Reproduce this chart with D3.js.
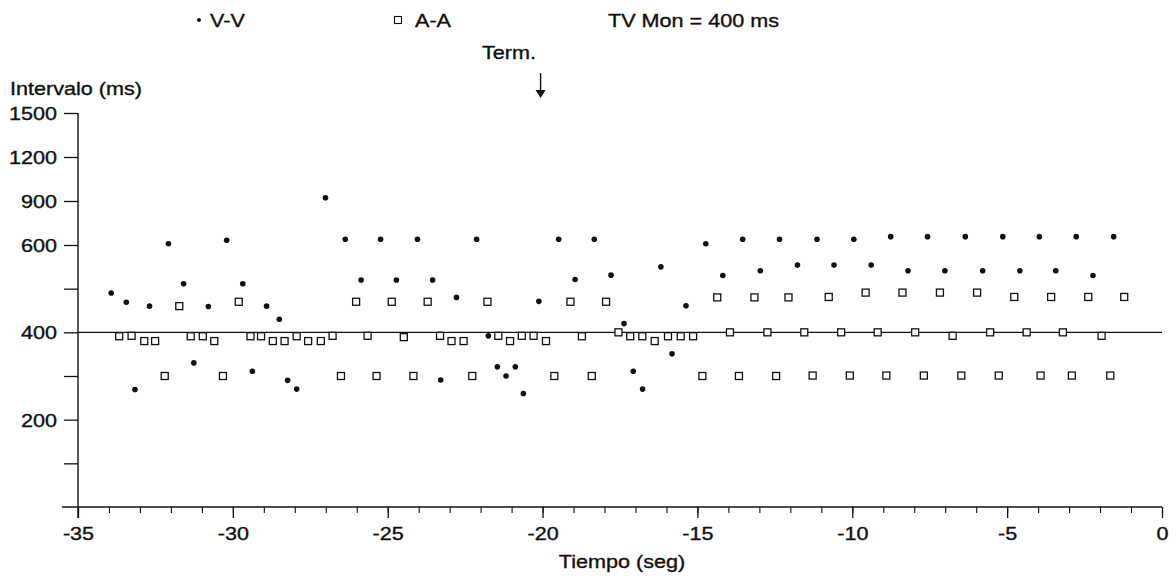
<!DOCTYPE html>
<html>
<head>
<meta charset="utf-8">
<script src="https://cdn.jsdelivr.net/npm/d3@7"></script>
<style>
  html, body { margin: 0; padding: 0; background: #fff; }
  svg { display: block; }
  text { font-family: "Liberation Sans", Arial, sans-serif; fill: #111; stroke: #111; stroke-width: 0.35px; }
</style>
</head>
<body>
<svg id="chart" width="1176" height="580"></svg>
<script>
// ---- data ----
const vvTime = [-33.93,-33.44,-33.16,-32.69,-32.08,-31.59,-31.26,-30.79,-30.20,-29.68,-29.37,-28.91,-28.50,-28.23,-27.94,
  -27.01,-26.37,-25.86,-25.23,-24.72,-24.04,-23.55,-23.29,-22.78,-22.13,-21.75,-21.46,-21.18,-20.88,-20.62,-20.12,
  -19.48,-18.95,-18.33,-17.79,-17.37,-17.07,-16.77,-16.18,-15.82,-15.37,-14.73,-14.18,-13.54,-12.97,-12.35,
  -11.77,-11.14,-10.59,-9.95,-9.39,-8.76,-8.20,-7.57,-7.01,-6.35,-5.79,-5.14,-4.59,-3.96,-3.43,-2.77,-2.23,-1.56];
const vvValue = [490,469,269,460,609,511,330,459,632,511,311,460,430,290,270,
  922,639,520,639,520,639,520,291,480,639,392,321,300,321,260,471,
  639,521,639,531,420,311,270,550,351,461,609,530,639,541,639,
  554,639,554,639,554,657,541,657,541,657,541,657,541,657,541,657,530,657];

const aaTime = [-33.67,-33.27,-32.86,-32.51,-32.20,-31.73,-31.36,-30.97,-30.60,-30.32,-29.81,-29.43,-29.09,-28.71,-28.33,
  -27.94,-27.57,-27.16,-26.78,-26.51,-26.02,-25.65,-25.36,-24.87,-24.48,-24.17,-23.71,-23.31,-22.94,-22.55,-22.27,
  -21.78,-21.43,-21.05,-20.67,-20.29,-19.89,-19.62,-19.10,-18.73,-18.41,-17.95,-17.55,-17.17,-16.78,-16.38,-15.95,
  -15.54,-15.14,-14.84,-14.36,-13.95,-13.66,-13.16,-12.74,-12.46,-12.06,-11.55,-11.28,-10.76,-10.36,-10.08,-9.57,
  -9.18,-8.90,-8.38,-7.97,-7.69,-7.17,-6.76,-6.48,-5.97,-5.55,-5.27,-4.77,-4.37,-3.92,-3.58,-3.20,-2.91,-2.38,
  -1.95,-1.67,-1.22];
const aaValue = [391,392,380,380,300,460,391,391,380,300,470,391,391,380,380,
  391,380,380,392,300,470,392,300,470,389,300,470,392,380,380,300,
  470,392,380,392,392,380,300,470,391,300,470,400,391,391,380,391,
  391,391,300,480,400,300,480,400,300,480,400,301,481,400,301,491,
  400,301,491,400,301,491,392,301,491,400,301,481,400,301,481,400,301,481,
  392,301,481];

const yTickValues = [100,200,300,400,500,600,900,1200,1500];
const yTickLabels = ["","200","","400","","600","900","1200","1500"];
const xMajorTicks = [-35,-30,-25,-20,-15,-10,-5,0];
const xMajorLabels = ["-35","-30","-25","-20","-15","-10","-5","0"];
const xMinorTicks = d3.range(-35, 1, 1);
const referenceValue = 400;
const termTime = -20;

// ---- layout ----
const SX = 1.2; // horizontal stretch of the original lettering
const svg = d3.select("#chart");
const x = d3.scaleLinear().domain([-35, 0]).range([78, 1162]);
const y = d3.scaleLinear().domain([0, 600, 1500]).range([507, 245, 113]);
const ink = "#111";
const FONT = '"Liberation Sans", Arial, sans-serif';

function label(txt, px, py, anchor, size) {
  return svg.append("text")
    .attr("transform", `translate(${px},${py}) scale(${SX},1)`)
    .attr("text-anchor", anchor || "start")
    .attr("font-size", size || 18)
    .text(txt);
}

// y axis
const yAxis = svg.append("g").attr("transform", `translate(${x(-35)},0)`)
  .call(d3.axisLeft(y).tickValues(yTickValues)
    .tickFormat((d, i) => yTickLabels[i]).tickSize(14).tickSizeOuter(0));
yAxis.select(".domain").remove();
yAxis.selectAll(".tick line").attr("stroke", ink).attr("stroke-width", 1.3);
yAxis.selectAll(".tick text")
  .attr("x", -21 / SX).attr("dy", "0.36em")
  .attr("transform", `scale(${SX},1)`)
  .attr("font-size", 18).attr("fill", ink).attr("font-family", FONT);

// x axis minor & major ticks
const xMinor = svg.append("g").attr("transform", `translate(0,${y(0)})`)
  .call(d3.axisBottom(x).tickValues(xMinorTicks).tickFormat("").tickSize(6).tickSizeOuter(0));
xMinor.select(".domain").remove();
xMinor.selectAll(".tick line").attr("stroke", ink).attr("stroke-width", 1.1);

const xMajor = svg.append("g").attr("transform", `translate(0,${y(0)})`)
  .call(d3.axisBottom(x).tickValues(xMajorTicks)
    .tickFormat((d, i) => xMajorLabels[i]).tickSize(11).tickSizeOuter(0));
xMajor.select(".domain").remove();
xMajor.selectAll(".tick line").attr("stroke", ink).attr("stroke-width", 1.3);
xMajor.selectAll(".tick text")
  .attr("y", 20).attr("dy", "0.71em")
  .attr("transform", `scale(${SX},1)`)
  .attr("x", 0)
  .attr("font-size", 18).attr("fill", ink).attr("font-family", FONT);

// axis lines
svg.append("line").attr("x1", x(-35) - 16).attr("x2", x(0)).attr("y1", y(0)).attr("y2", y(0))
  .attr("stroke", ink).attr("stroke-width", 1.4);
svg.append("line").attr("x1", x(-35)).attr("x2", x(-35)).attr("y1", y(1500)).attr("y2", y(0) + 11)
  .attr("stroke", ink).attr("stroke-width", 1.4);

// reference line at 400
svg.append("line").attr("x1", x(-35)).attr("x2", x(0)).attr("y1", y(referenceValue)).attr("y2", y(referenceValue))
  .attr("stroke", ink).attr("stroke-width", 1.2);

// A-A squares
const sq = 7;
svg.append("g").selectAll("rect").data(aaTime).join("rect")
  .attr("x", (d) => x(d) - sq / 2)
  .attr("y", (d, i) => y(aaValue[i]) - sq / 2)
  .attr("width", sq).attr("height", sq)
  .attr("fill", "#fff").attr("stroke", ink).attr("stroke-width", 1.3);

// V-V dots
svg.append("g").selectAll("circle").data(vvTime).join("circle")
  .attr("cx", (d) => x(d))
  .attr("cy", (d, i) => y(vvValue[i]))
  .attr("r", 2.8).attr("fill", ink);

// titles
label("Intervalo (ms)", 10, 95, "start", 18);
label("Tiempo (seg)", 622, 568, "middle", 18);

// legend
svg.append("circle").attr("cx", 199).attr("cy", 20).attr("r", 2).attr("fill", ink);
label("V-V", 210, 27, "start", 18);
svg.append("rect").attr("x", 398 - 3.5).attr("y", 20 - 3.5).attr("width", 7).attr("height", 7)
  .attr("fill", "#fff").attr("stroke", ink).attr("stroke-width", 1.1);
label("A-A", 415, 27, "start", 18);
label("TV Mon = 400 ms", 608, 27, "start", 18);

// termination marker
label("Term.", 482, 59, "start", 18);
const ax = x(termTime) - 2;
svg.append("line").attr("x1", ax).attr("x2", ax).attr("y1", 73).attr("y2", 92)
  .attr("stroke", ink).attr("stroke-width", 1.4);
svg.append("path").attr("d", `M${ax - 5},90 L${ax + 5},90 L${ax},98 Z`).attr("fill", ink);
</script>
</body>
</html>
